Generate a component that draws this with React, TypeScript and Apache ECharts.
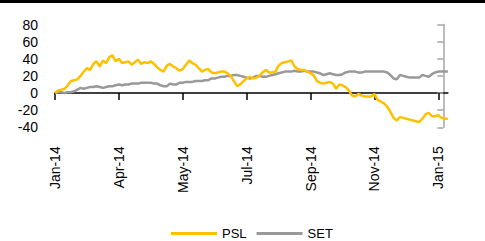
import React, { useEffect, useRef } from "react";
import * as echarts from "echarts";

const tickLabels = ["Jan-14", "Apr-14", "May-14", "Jul-14", "Sep-14", "Nov-14", "Jan-15"];

const psl = [
  0, 3, 4, 5, 9, 14, 15, 16, 20, 25,
  29, 27, 34, 37, 31, 38, 35, 42, 44, 37,
  40, 35, 36, 37, 33, 36, 39, 34, 36, 35,
  37, 34, 30, 27, 25, 32, 34, 31, 29, 26,
  28, 33, 38, 35, 33, 29, 25, 27, 28, 24,
  23, 24, 25, 25, 23, 20, 14, 8, 10, 14,
  17, 19, 17, 18, 20, 24, 27, 24, 24, 25,
  32, 35, 36, 37, 38, 31, 28, 27, 27, 25,
  23, 21, 14, 12, 11, 12, 13, 11, 5, 10,
  9, 7, 3, -3, -4, -1, -3, -4, -4, -4,
  -1, -8, -10, -12, -16, -22, -29, -32, -28, -29,
  -30, -31, -32, -33, -34, -30, -25, -23, -27, -27,
  -26, -29, -30, -30,
];

const set = [
  0, 1, 1, 0, 1, 1, 2, 4, 6, 5,
  6, 7, 7, 8, 7, 6, 7, 8, 8, 9,
  10, 9, 10, 10, 11, 11, 11, 12, 12, 12,
  12, 11, 11, 9, 8, 8, 11, 10, 10, 12,
  12, 13, 13, 13, 14, 14, 14, 15, 15, 17,
  17, 18, 19, 19, 20, 20, 21, 21, 20, 19,
  18, 17, 18, 20, 20, 19, 19, 20, 21, 22,
  23, 24, 25, 25, 25, 26, 25, 25, 26, 25,
  25, 25, 24, 23, 21, 22, 23, 22, 21, 21,
  22, 24, 25, 25, 25, 24, 24, 25, 25, 25,
  25, 25, 25, 25, 24, 21, 17, 16, 21, 20,
  19, 18, 18, 18, 18, 21, 20, 19, 22, 24,
  25, 25, 25, 25,
];

const categories = psl.map((_, i) => String(i));
const TICK_STEP = 20;

const FONT = "'Liberation Sans', Arial, sans-serif";

export default function App() {
  const ref = useRef<HTMLDivElement>(null);
  useEffect(() => {
    if (!ref.current) return;
    const chart = echarts.init(ref.current, undefined, { renderer: "svg" });
    chart.setOption({
      animation: false,
      textStyle: { fontFamily: FONT, color: "#000" },
      grid: { left: 55, top: 24.5, width: 392.9, height: 102.8, containLabel: false },
      graphic: [
        { type: "rect", shape: { x: 0, y: 0, width: 485, height: 3 }, style: { fill: "#000" } },
      ],
      legend: {
        left: 166,
        top: 222,
        itemGap: 10,
        itemWidth: 46,
        itemHeight: 3,
        icon: "rect",
        textStyle: { fontFamily: FONT, fontSize: 13, color: "#000" },
        data: ["PSL", "SET"],
      },
      xAxis: [
        {
          type: "category",
          data: categories,
          boundaryGap: false,
          axisLine: { onZero: true, lineStyle: { color: "#000", width: 1.5 } },
          axisTick: { show: true, interval: TICK_STEP - 1, length: 7, lineStyle: { color: "#000", width: 1.5 } },
          axisLabel: { show: false },
          splitLine: { show: false },
        },
        {
          type: "category",
          data: categories,
          boundaryGap: false,
          position: "bottom",
          axisLine: { show: false, onZero: false },
          axisTick: { show: false },
          axisLabel: {
            show: true,
            interval: TICK_STEP - 1,
            rotate: 90,
            margin: 19,
            fontSize: 14,
            fontFamily: FONT,
            color: "#000",
            formatter: (_v: string, idx: number) => tickLabels[idx / TICK_STEP] ?? "",
          },
          splitLine: { show: false },
        },
      ],
      yAxis: [
        {
          type: "value",
          min: -40,
          max: 80,
          interval: 20,
          position: "left",
          axisLine: { show: false },
          axisTick: { show: false },
          splitLine: { show: false },
          axisLabel: { margin: 17, fontSize: 14, fontFamily: FONT, color: "#000" },
        },
        {
          type: "value",
          min: -40,
          max: 80,
          interval: 20,
          position: "right",
          offset: -4.6,
          axisLine: { show: true, lineStyle: { color: "#A6A6A6", width: 1.5 } },
          axisTick: { show: true, inside: true, length: 6, lineStyle: { color: "#A6A6A6", width: 1.5 } },
          axisLabel: { show: false },
          splitLine: { show: false },
        },
      ],
      series: [
        {
          name: "PSL",
          type: "line",
          data: psl,
          xAxisIndex: 0,
          yAxisIndex: 0,
          showSymbol: false,
          symbol: "none",
          lineStyle: { color: "#FFC000", width: 2.5 },
          itemStyle: { color: "#FFC000" },
          z: 3,
        },
        {
          name: "SET",
          type: "line",
          data: set,
          xAxisIndex: 0,
          yAxisIndex: 0,
          showSymbol: false,
          symbol: "none",
          lineStyle: { color: "#999999", width: 2.5 },
          itemStyle: { color: "#999999" },
          z: 2,
        },
      ],
    });
    return () => chart.dispose();
  }, []);
  return <div ref={ref} style={{ width: 485, height: 241, position: "absolute", left: 0, top: 0 }} />;
}
